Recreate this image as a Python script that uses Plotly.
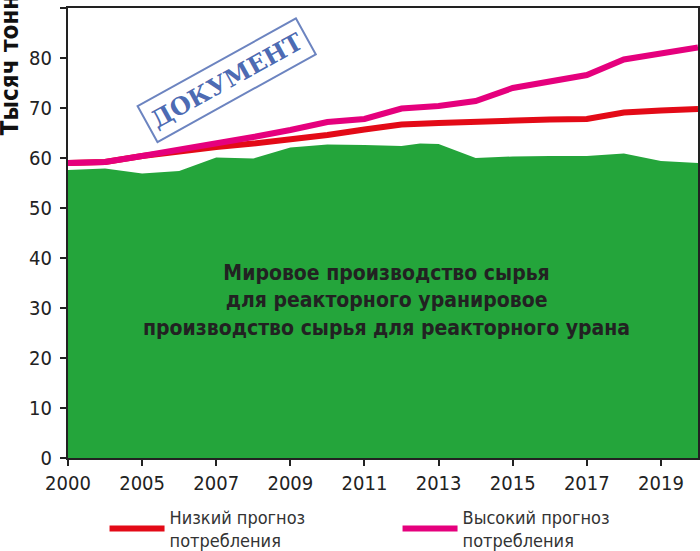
import plotly.graph_objects as go

# Подписи оси X (ось не равномерна по годам: 2000 -> 2005 занимает один шаг)
tick_slots = [0, 2, 4, 6, 8, 10, 12, 14, 16]
tick_years = ["2000", "2005", "2007", "2009", "2011", "2013", "2015", "2017", "2019"]

# Мировое производство сырья (зелёная область)
prod_slots = [0, 1, 2, 3, 4, 5, 6, 7, 8, 9, 9.5, 10, 11, 12, 13, 14, 15, 16, 17]
prod_vals = [57.6, 57.9, 56.9, 57.4, 60.1, 59.9, 62.1, 62.7, 62.6, 62.4, 62.9, 62.8,
             60.0, 60.3, 60.4, 60.4, 60.9, 59.4, 59.0]

# Прогнозы потребления
fc_slots = list(range(18))
low_vals = [59.0, 59.2, 60.4, 61.4, 62.2, 62.9, 63.7, 64.6, 65.7, 66.7, 67.0, 67.3,
            67.6, 67.7, 67.8, 69.1, 69.5, 69.8]
high_vals = [59.0, 59.2, 60.4, 61.6, 62.9, 64.2, 65.6, 67.2, 67.8, 69.9, 70.4, 71.4,
             74.0, 75.2, 76.6, 79.7, 81.0, 82.1]

GREEN = "#24a53b"
RED = "#e30a17"
PINK = "#e5007d"
FONT = "Liberation Sans Narrow, DejaVu Sans Condensed, Arial Narrow, sans-serif"

fig = go.Figure()

fig.add_trace(go.Scatter(
    x=prod_slots, y=prod_vals, mode="none", fill="tozeroy",
    fillcolor=GREEN, showlegend=False, hoverinfo="skip"
))
fig.add_trace(go.Scatter(
    x=fc_slots, y=low_vals, mode="lines", name="Низкий прогноз<br>потребления",
    line=dict(color=RED, width=6)
))
fig.add_trace(go.Scatter(
    x=fc_slots, y=high_vals, mode="lines", name="Высокий прогноз<br>потребления",
    line=dict(color=PINK, width=6)
))

# текст внутри области
fig.add_annotation(
    text="Мировое производство сырья<br>для реакторного уранировое<br>"
         "производство сырья для реакторного урана",
    xref="paper", yref="paper", x=0.505, y=0.349, showarrow=False,
    xanchor="center", yanchor="middle",
    font=dict(family=FONT, size=21, color="#222222", weight="bold"), align="center"
)

# штамп
fig.add_annotation(
    text="ДОКУМЕНТ", xref="paper", yref="paper", x=0.251, y=0.84, showarrow=False,
    xanchor="center", yanchor="middle", textangle=-29,
    font=dict(family="DejaVu Serif, Liberation Serif, serif", size=24,
              color="rgba(45,80,165,0.85)", weight="bold"),
    bordercolor="rgba(45,80,165,0.7)", borderwidth=2, borderpad=5
)

# подпись оси Y
fig.add_annotation(
    text="Тысяч тонн", xref="paper", yref="paper", x=-0.092, y=0.873,
    xanchor="center", yanchor="middle", showarrow=False, textangle=-90,
    font=dict(family=FONT, size=24, color="#111111", weight="bold")
)

fig.update_xaxes(
    range=[0, 17], tickvals=tick_slots, ticktext=tick_years,
    showgrid=False, zeroline=False, showline=True, linecolor="#222222", linewidth=2,
    mirror=True, ticks="outside", ticklen=6, tickwidth=2, tickcolor="#222222",
    tickfont=dict(family=FONT, size=20, color="#222222")
)
fig.update_yaxes(
    range=[0, 90], dtick=10, showgrid=False, zeroline=False,
    showline=True, linecolor="#222222", linewidth=2, mirror=True,
    ticks="outside", ticklen=6, tickwidth=2, tickcolor="#222222",
    ticklabelstandoff=4,
    tickfont=dict(family=FONT, size=20, color="#222222")
)

fig.update_layout(
    width=700, height=551,
    margin=dict(l=68, r=2, t=8, b=93, autoexpand=False),
    paper_bgcolor="white", plot_bgcolor="white",
    legend=dict(
        orientation="h", x=0.058, xanchor="left", y=-0.09, yanchor="top",
        entrywidth=223, entrywidthmode="pixels", itemwidth=55,
        font=dict(family=FONT, size=18, color="#333333")
    )
)

fig.write_html("out.html", config={"displayModeBar": False},
               post_script="document.body.style.margin='0';")
